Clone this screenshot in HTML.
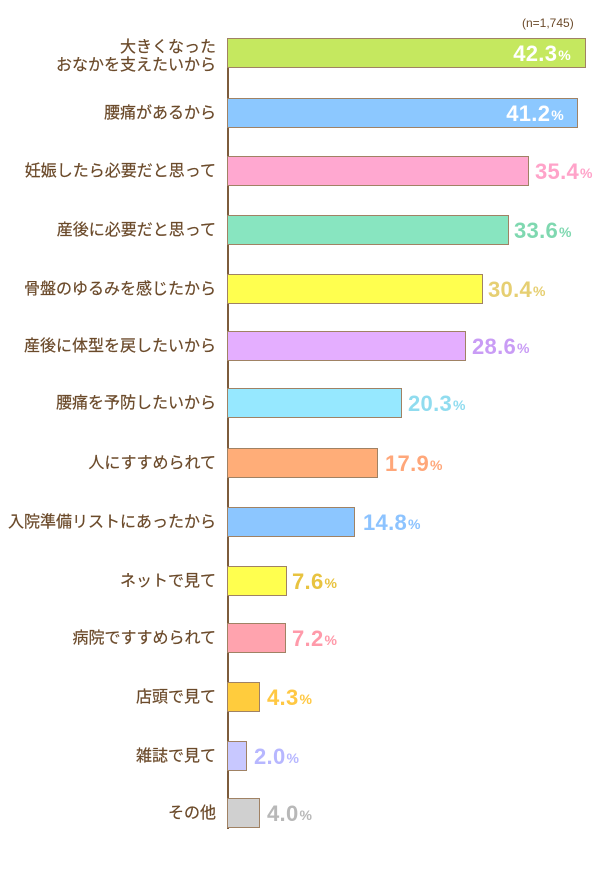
<!DOCTYPE html>
<html><head><meta charset="utf-8"><style>
html,body{margin:0;padding:0;background:#fff;}
body{width:600px;height:876px;position:relative;overflow:hidden;font-family:"Liberation Sans","Noto Sans CJK JP",sans-serif;}
.lbl{position:absolute;right:384px;font-size:16px;color:#6b4a2a;text-align:right;white-space:nowrap;line-height:17px;display:flex;align-items:center;justify-content:flex-end;height:31px;-webkit-text-stroke:0.2px #6b4a2a;}
.bar{position:absolute;left:227px;height:28px;border:1.5px solid #a08264;box-sizing:content-box;}
.axis{position:absolute;left:227px;top:38px;width:1.5px;height:791px;background:#7d5c3c;}
.val{position:absolute;height:31px;display:flex;align-items:center;font-weight:bold;font-size:22px;letter-spacing:0.3px;white-space:nowrap;}
.val span{font-size:14px;font-weight:bold;margin-left:1px;margin-top:3px;}
.n{position:absolute;left:522px;top:16px;font-size:12px;color:#6b4a2a;}
</style></head><body>
<div class="n">(n=1,745)</div>
<div class="axis"></div>

<div class="lbl" style="top:41px;height:31px;line-height:17.5px;">大きくなった<br>おなかを支えたいから</div>
<div class="bar" style="top:38px;width:357px;background:#c5e85f;"></div>
<div class="val" style="top:38px;right:29px;color:#fff;">42.3<span>%</span></div>

<div class="lbl" style="top:98px;">腰痛があるから</div>
<div class="bar" style="top:98px;width:349px;background:#8cc8ff;"></div>
<div class="val" style="top:98px;right:36px;color:#fff;">41.2<span>%</span></div>

<div class="lbl" style="top:156px;">妊娠したら必要だと思って</div>
<div class="bar" style="top:156px;width:300px;background:#ffa8d0;"></div>
<div class="val" style="top:156px;left:535px;color:#ffa3c9;">35.4<span>%</span></div>

<div class="lbl" style="top:215px;">産後に必要だと思って</div>
<div class="bar" style="top:215px;width:280px;background:#88e5c0;"></div>
<div class="val" style="top:215px;left:514px;color:#7fd8b0;">33.6<span>%</span></div>

<div class="lbl" style="top:274px;">骨盤のゆるみを感じたから</div>
<div class="bar" style="top:274px;width:254px;background:#ffff4f;"></div>
<div class="val" style="top:274px;left:488px;color:#e6cf72;">30.4<span>%</span></div>

<div class="lbl" style="top:331px;">産後に体型を戻したいから</div>
<div class="bar" style="top:331px;width:237px;background:#e4aeff;"></div>
<div class="val" style="top:331px;left:472px;color:#c99cf5;">28.6<span>%</span></div>

<div class="lbl" style="top:388px;">腰痛を予防したいから</div>
<div class="bar" style="top:388px;width:173px;background:#96e8ff;"></div>
<div class="val" style="top:388px;left:408px;color:#90dcef;">20.3<span>%</span></div>

<div class="lbl" style="top:448px;">人にすすめられて</div>
<div class="bar" style="top:448px;width:149px;background:#ffad78;"></div>
<div class="val" style="top:448px;left:385px;color:#ffa77a;">17.9<span>%</span></div>

<div class="lbl" style="top:507px;">入院準備リストにあったから</div>
<div class="bar" style="top:507px;width:126px;background:#8cc6ff;"></div>
<div class="val" style="top:507px;left:363px;color:#8cc3ff;">14.8<span>%</span></div>

<div class="lbl" style="top:566px;">ネットで見て</div>
<div class="bar" style="top:566px;width:58px;background:#ffff4f;"></div>
<div class="val" style="top:566px;left:292px;color:#e8c340;">7.6<span>%</span></div>

<div class="lbl" style="top:623px;">病院ですすめられて</div>
<div class="bar" style="top:623px;width:57px;background:#ffa3ae;"></div>
<div class="val" style="top:623px;left:292px;color:#ff9aaa;">7.2<span>%</span></div>

<div class="lbl" style="top:682px;">店頭で見て</div>
<div class="bar" style="top:682px;width:31px;background:#ffcc3d;"></div>
<div class="val" style="top:682px;left:267px;color:#ffc843;">4.3<span>%</span></div>

<div class="lbl" style="top:741px;">雑誌で見て</div>
<div class="bar" style="top:741px;width:18px;background:#c8c8ff;"></div>
<div class="val" style="top:741px;left:254px;color:#b7b7ff;">2.0<span>%</span></div>

<div class="lbl" style="top:798px;">その他</div>
<div class="bar" style="top:798px;width:31px;background:#d0d0d0;"></div>
<div class="val" style="top:798px;left:267px;color:#b8b8b8;">4.0<span>%</span></div>
</body></html>
